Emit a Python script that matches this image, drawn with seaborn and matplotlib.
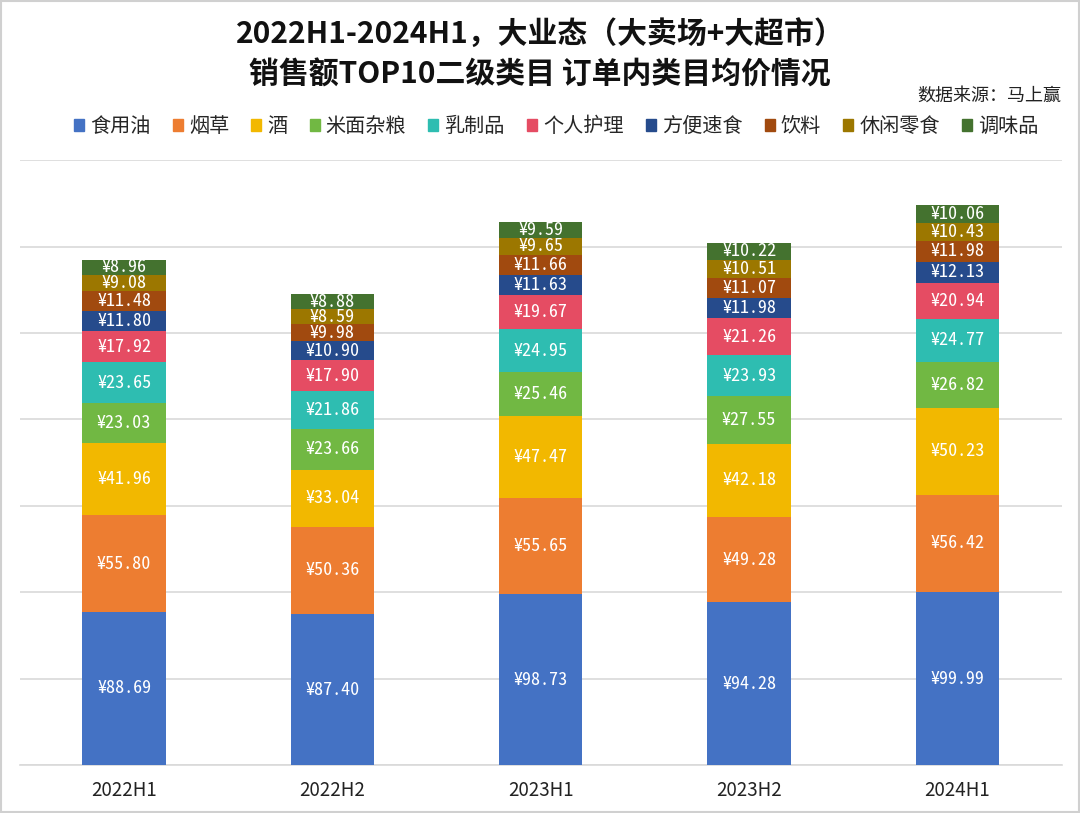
import numpy as np
import pandas as pd
import matplotlib
matplotlib.use("Agg")
import matplotlib.pyplot as plt
import matplotlib.patches as mpatches
import seaborn as sns

periods = ["2022H1", "2022H2", "2023H1", "2023H2", "2024H1"]
categorias = ["食用油", "烟草", "酒", "米面杂粮", "乳制品", "个人护理", "方便速食", "饮料", "休闲零食", "调味品"]
cores = ["#4472C4", "#ED7D31", "#F2B800", "#71B843", "#2EBDB1", "#E54C63",
         "#264B8C", "#A14A0F", "#9C7700", "#44722F"]

shiyongyou = [88.69, 87.40, 98.73, 94.28, 99.99]
yancao = [55.80, 50.36, 55.65, 49.28, 56.42]
jiu = [41.96, 33.04, 47.47, 42.18, 50.23]
mimian = [23.03, 23.66, 25.46, 27.55, 26.82]
ruzhipin = [23.65, 21.86, 24.95, 23.93, 24.77]
gerenhuli = [17.92, 17.90, 19.67, 21.26, 20.94]
fangbian = [11.80, 10.90, 11.63, 11.98, 12.13]
yinliao = [11.48, 9.98, 11.66, 11.07, 11.98]
xiuxian = [9.08, 8.59, 9.65, 10.51, 10.43]
tiaowei = [8.96, 8.88, 9.59, 10.22, 10.06]

valores = [shiyongyou, yancao, jiu, mimian, ruzhipin, gerenhuli, fangbian, yinliao, xiuxian, tiaowei]

sns.set_theme(style="white")
plt.rcParams['font.family'] = ['Noto Sans CJK SC', 'DejaVu Sans']
fonte_mono = ['Noto Sans Mono CJK SC', 'DejaVu Sans Mono']

df = pd.DataFrame(np.array(valores).T, index=periods, columns=categorias)
acumulado = df.cumsum(axis=1)

fig = plt.figure(figsize=(10.8, 8.13), dpi=100)
ax = fig.add_axes([0.0185, 0.059, 0.9645, 0.744])

# barras empilhadas: desenha do topo para baixo, cada uma cobrindo a anterior
for i in reversed(range(len(categorias))):
    sns.barplot(x=periods, y=acumulado[categorias[i]].values, color=cores[i],
                width=0.4, saturation=1, linewidth=0, ax=ax, zorder=3)

for i, cat in enumerate(categorias):
    for j, p in enumerate(periods):
        v = df.loc[p, cat]
        y = acumulado.loc[p, cat] - v / 2
        ax.text(j, y, f"¥{v:.2f}", ha="center", va="center", color="white",
                fontsize=13, family=fonte_mono, zorder=5)

ax.set_ylim(0, 350)
ax.set_xlim(-0.5, 4.5)
ax.set_yticks(np.arange(0, 351, 50))
ax.set_yticklabels([])
ax.yaxis.grid(True, color="#D9D9D9", linewidth=1.2)
ax.set_axisbelow(True)
for s in ["top", "left", "right"]:
    ax.spines[s].set_visible(False)
ax.spines["bottom"].set_color("#D9D9D9")
ax.spines["bottom"].set_linewidth(1.2)
ax.tick_params(axis="x", length=0, labelsize=13.5, colors="#222222", pad=11)
ax.tick_params(axis="y", length=0)

fig.text(0.5, 0.957, "2022H1-2024H1，大业态（大卖场+大超市）", ha="center", va="center",
         fontsize=21.5, fontweight="bold", color="#111111")
fig.text(0.5, 0.908, "销售额TOP10二级类目 订单内类目均价情况", ha="center", va="center",
         fontsize=21.5, fontweight="bold", color="#111111")
fig.text(0.983, 0.882, "数据来源：马上赢", ha="right", va="center", fontsize=13, color="#222222")

handles = [mpatches.Patch(color=c, label=l) for c, l in zip(cores, categorias)]
fig.legend(handles=handles, loc="center", bbox_to_anchor=(0.515, 0.844), ncol=10,
           frameon=False, fontsize=14.5, handlelength=0.5, handleheight=0.5,
           handletextpad=0.3, columnspacing=1.1)

fig.patches.append(mpatches.Rectangle((0.001, 0.001), 0.998, 0.998, transform=fig.transFigure,
                                      fill=False, edgecolor="#D0D0D0", linewidth=1.5))

fig.savefig("out.png", dpi=100)
